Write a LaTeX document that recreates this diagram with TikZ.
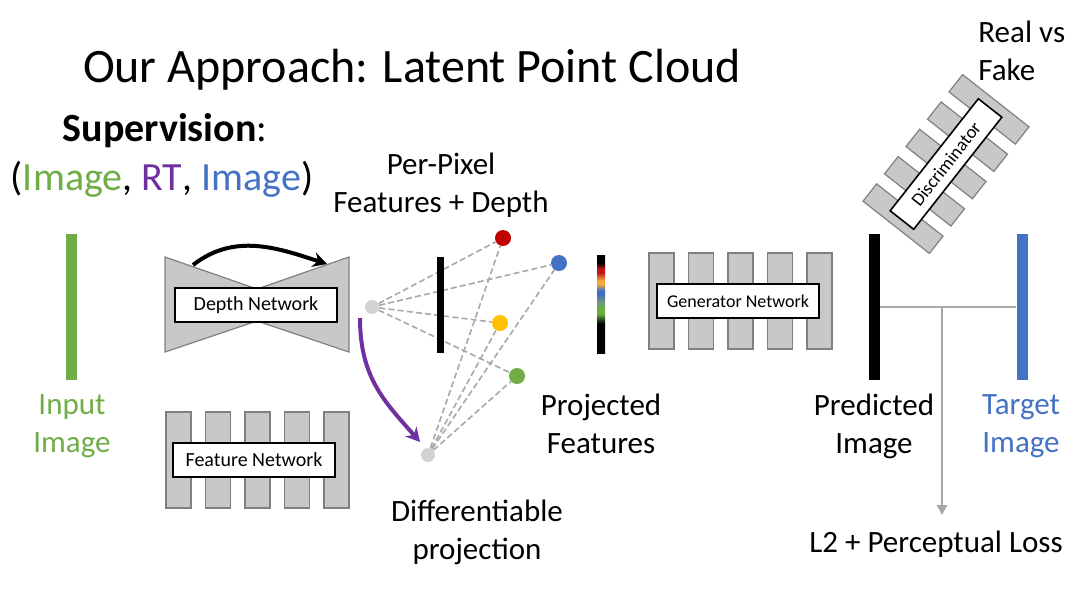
\documentclass[tikz,border=0pt]{standalone}
\usepackage{fontspec}
\setmainfont{Carlito}
\usetikzlibrary{arrows.meta}

\definecolor{offgreen}{HTML}{70AD47}
\definecolor{offblue}{HTML}{4472C4}
\definecolor{offpurple}{HTML}{7030A0}
\definecolor{offred}{HTML}{C00000}
\definecolor{offyellow}{HTML}{FFC000}
\definecolor{stripamber}{HTML}{F2A93B}
\definecolor{stripgreen}{HTML}{6DAF3F}
\definecolor{stripblue}{HTML}{3F6FC8}
\definecolor{stripred}{HTML}{C0141C}
\definecolor{stripmid}{HTML}{6E8C8C}
\definecolor{layerfill}{HTML}{C8C8C8}
\definecolor{layeredge}{HTML}{808080}
\definecolor{dotgray}{HTML}{D2D2D2}
\definecolor{raygray}{HTML}{A8A8A8}

% colour strip of the projected features (bottom to top)
\pgfdeclareverticalshading{featstrip}{100bp}{%
  color(0bp)=(black); color(40bp)=(black); color(45bp)=(stripgreen);
  color(48bp)=(stripgreen); color(52bp)=(stripmid); color(55bp)=(stripblue);
  color(57bp)=(stripblue); color(60bp)=(stripamber); color(62bp)=(stripamber);
  color(66bp)=(stripred); color(68bp)=(stripred); color(71bp)=(black);
  color(100bp)=(black)}

\pgfdeclarelayer{bg}
\pgfsetlayers{bg,main}

\tikzset{
  layerblock/.style={draw=layeredge, fill=layerfill, line width=0.6pt},
  netbox/.style={draw=black, fill=white, line width=0.8pt, minimum width=81pt,
    minimum height=17pt, inner sep=0pt, font=\fontsize{10}{12}\selectfont},
  caption/.style={align=center, inner sep=0pt, anchor=north,
    font=\fontsize{15.5}{19}\selectfont},
  featdot/.style={circle, inner sep=0pt, minimum size=8pt},
  camdot/.style={circle, inner sep=0pt, minimum size=7pt, fill=dotgray},
  ray/.style={draw=raygray, line width=0.8pt, dash pattern=on 3pt off 1.6pt},
  imgbar/.style={rectangle, inner sep=0pt, minimum width=5.5pt, minimum height=73pt},
  lossline/.style={draw=raygray, line width=1.4pt},
  bigarrow/.style={line width=2pt, -{Stealth[length=7pt,width=7.5pt]}},
  layerstack/.pic={
    \foreach \dx in {-79,-39.5,0,39.5,79}
      \draw[layerblock] (\dx-12.5,-48) rectangle (\dx+12.5,48);
  }
}

\begin{document}
\begin{tikzpicture}[x=0.5pt,y=-0.5pt]
\begin{pgfonlayer}{bg}
  \fill[white] (0,0) rectangle (1074,600);
\end{pgfonlayer}
\useasboundingbox (0,0) rectangle (1074,600);

% headings
\node[anchor=base, font=\fontsize{24}{28}\selectfont] (title) at (412,82)
  {Our Approach: Latent Point Cloud};
\node[anchor=base, font=\fontsize{20}{24}\selectfont] (sup) at (165,141)
  {\textbf{Supervision}:};
\node[anchor=base, font=\fontsize{20}{24}\selectfont] (triple) at (162,190)
  {(\textcolor{offgreen}{Image}, \textcolor{offpurple}{RT}, \textcolor{offblue}{Image})};

% input image
\node[imgbar, fill=offgreen] (input) at (71,307) {};
\node[caption, text=offgreen] (inputlbl) at (72,394) {Input\\Image};

% depth network (encoder-decoder)
\draw[layerblock] (165,257) -- (257,289) -- (349,257) -- (349,352)
  -- (257,321) -- (165,352) -- cycle;
\node[netbox] (depth) at (256,305) {Depth Network};
\coordinate (skipA) at (193,265);
\coordinate (skipB) at (327,264);
\draw[bigarrow] (skipA) to[out=38,in=162] (skipB);

% feature network
\pic at (257.5,460) {layerstack};
\node[netbox] (feat) at (254,460) {Feature Network};

% per-pixel features + depth, lifted to points and reprojected
\node[camdot] (cam) at (372,307) {};
\node[camdot] (proj) at (428,455) {};
\node[fill=black, inner sep=0pt, minimum width=3.5pt, minimum height=48pt] (plane) at (440.5,305) {};
\node[featdot, fill=offred] (pr) at (503,238) {};
\node[featdot, fill=offblue] (pb) at (559,263) {};
\node[featdot, fill=offyellow] (py) at (500,323) {};
\node[featdot, fill=offgreen] (pg) at (517,376) {};
\begin{pgfonlayer}{bg}
  \foreach \p in {pr,pb,py,pg} {
    \draw[ray] (cam) -- (\p);
    \draw[ray] (proj) -- (\p);
  }
\end{pgfonlayer}
\draw[bigarrow, offpurple] ([shift={(-12,11)}]cam.center)
  .. controls +(0,60) and +(-35,-40) .. ([shift={(-8,-13)}]proj.center);

\node[caption] (pplbl) at (441,153) {Per-Pixel\\Features + Depth};
\node[caption] (dplbl) at (477,500) {Differentiable\\projection};

% projected feature strip
\node[shading=featstrip, inner sep=0pt, minimum width=4pt, minimum height=49pt] (strip) at (601,304) {};
\node[caption] (pflbl) at (601,394) {Projected\\Features};

% generator network
\pic at (740.5,301) {layerstack};
\node[netbox, font=\fontsize{9}{11}\selectfont] (gen) at (738,301) {Generator Network};

% predicted and target images
\node[imgbar, fill=black] (pred) at (874,307) {};
\node[imgbar, fill=offblue] (targ) at (1022,307) {};
\node[caption] (predlbl) at (874,394) {Predicted\\Image};
\node[caption, text=offblue] (targlbl) at (1021,394) {Target\\Image};

% discriminator
\pic[rotate=51.8, scale=0.88] at (946,164) {layerstack};
\node[netbox, rotate=51.8, scale=0.88, font=\fontsize{10.5}{12}\selectfont] (disc) at (946,164) {Discriminator};
\node[caption, anchor=north west, align=left] (rflbl) at (978,21) {Real vs\\Fake};

% reconstruction loss
\node[caption] (loss) at (936,531) {L2 + Perceptual Loss};
\draw[lossline] (pred) -- (targ);
\coordinate (join) at (942,307);
\draw[lossline, -{Triangle[length=5pt,width=5pt]}, shorten >=8pt] (join) -- (join |- loss.north);
\end{tikzpicture}
\end{document}
